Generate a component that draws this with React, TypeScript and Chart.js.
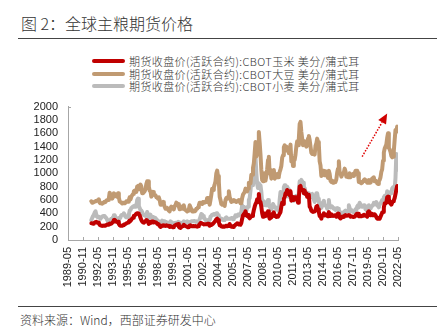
import React, { useEffect, useRef } from 'react';
import { Chart, registerables } from 'chart.js';

Chart.register(...registerables);

// Month index 0 = 1989-05; data starts at 1991-09 (index 28), monthly to 2022-05 (index 396)
const AXIS_START_YEAR = 1989;
const AXIS_START_MONTH = 5;
const DATA_START_INDEX = 28;
const X_TICKS = [0, 18, 36, 54, 72, 90, 108, 126, 144, 162, 180, 198, 216, 234, 252, 270, 288, 306, 324, 342, 360, 378, 396];
const Y_TICKS = [0, 200, 400, 600, 800, 1000, 1200, 1400, 1600, 1800, 2000];

const SERIES_NAMES = [
  '期货收盘价(活跃合约):CBOT玉米 美分/蒲式耳',
  '期货收盘价(活跃合约):CBOT大豆 美分/蒲式耳',
  '期货收盘价(活跃合约):CBOT小麦 美分/蒲式耳',
];
const SERIES_COLORS = ['#C00000', '#C09A72', '#BBBBBB'];

const cornPrices = [
  250, 250, 245, 252,
  262, 268, 272, 258, 262, 252, 228, 220, 215, 210, 215, 218,
  215, 215, 225, 232, 228, 232, 248, 240, 245, 258, 272, 300,
  302, 290, 275, 268, 272, 242, 222, 215, 215, 212, 220, 230,
  235, 240, 250, 255, 262, 280, 292, 285, 305, 322, 335, 362,
  368, 378, 395, 402, 398, 385, 370, 330, 300, 278, 265, 260,
  270, 280, 300, 292, 272, 242, 250, 265, 260, 280, 275, 265,
  270, 265, 260, 245, 235, 230, 210, 195, 205, 215, 220, 215,
  215, 210, 220, 215, 210, 215, 195, 210, 200, 195, 190, 200,
  215, 225, 230, 235, 240, 200, 185, 180, 195, 205, 210, 230,
  215, 210, 205, 200, 190, 195, 215, 220, 210, 205, 210, 210,
  205, 210, 205, 200, 205, 220, 235, 255, 255, 245, 240, 235,
  235, 235, 235, 240, 245, 230, 215, 235, 225, 235, 245, 245,
  275, 290, 310, 320, 300, 265, 220, 225, 205, 200, 200, 205,
  200, 210, 215, 205, 210, 220, 240, 210, 200, 200, 195, 215,
  215, 230, 235, 250, 245, 235, 240, 230, 255, 320, 370, 390,
  400, 430, 370, 360, 375, 340, 325, 340, 355, 360, 390, 450,
  500, 540, 560, 610, 600, 690, 560, 570, 500, 400, 350, 400,
  370, 360, 400, 390, 430, 360, 320, 330, 340, 380, 400, 415,
  360, 365, 345, 350, 350, 350, 395, 420, 500, 560, 540, 620,
  640, 700, 690, 750, 730, 700, 670, 730, 590, 650, 600, 640,
  640, 640, 640, 620, 560, 640, 800, 810, 750, 750, 750, 700,
  740, 690, 700, 650, 660, 680, 500, 480, 440, 430, 420, 420,
  430, 450, 500, 510, 460, 420, 360, 360, 320, 370, 375, 400,
  370, 385, 375, 360, 355, 420, 370, 360, 385, 375, 360, 360,
  370, 360, 350, 390, 395, 360, 335, 325, 335, 350, 345, 350,
  365, 375, 365, 365, 370, 375, 370, 350, 355, 350, 345, 350,
  350, 365, 385, 395, 395, 355, 365, 355, 355, 365, 365, 380,
  375, 365, 360, 350, 420, 430, 415, 370, 375, 390, 370, 385,
  385, 370, 345, 320, 320, 335, 320, 350, 380, 410, 420, 485,
  550, 550, 560, 640, 650, 620, 560, 550, 530, 560, 580, 595,
  630, 690, 750, 810, 800,
];

const soybeanPrices = [
  580, 560, 560, 560,
  575, 580, 590, 590, 600, 610, 560, 550, 550, 545, 560, 565,
  575, 570, 590, 600, 600, 620, 710, 680, 640, 620, 650, 700,
  690, 680, 680, 650, 700, 640, 580, 570, 560, 550, 560, 560,
  550, 560, 580, 580, 575, 600, 640, 610, 650, 670, 690, 730,
  740, 720, 720, 800, 810, 760, 800, 830, 800, 700, 700, 700,
  730, 760, 840, 880, 880, 800, 740, 730, 650, 700, 720, 680,
  670, 670, 640, 640, 620, 640, 600, 530, 530, 560, 570, 540,
  500, 470, 470, 480, 460, 440, 430, 480, 500, 490, 470, 460,
  510, 520, 560, 530, 540, 500, 460, 480, 500, 470, 500, 520,
  460, 450, 440, 430, 440, 460, 520, 490, 460, 430, 440, 430,
  430, 440, 470, 470, 490, 520, 560, 560, 550, 540, 570, 560,
  560, 570, 570, 630, 630, 620, 530, 600, 680, 770, 750, 790,
  830, 880, 1000, 1040, 960, 870, 650, 600, 540, 530, 540, 550,
  510, 600, 630, 620, 650, 730, 640, 610, 570, 580, 580, 600,
  590, 580, 570, 580, 590, 600, 580, 550, 550, 630, 680, 680,
  720, 770, 760, 730, 770, 860, 860, 850, 980, 980, 1080, 1150,
  1300, 1470, 1250, 1300, 1400, 1620, 1460, 1280, 1050, 900, 880, 970,
  1000, 890, 960, 1060, 1200, 1250, 1000, 1050, 920, 970, 1040, 1050,
  920, 940, 940, 990, 940, 960, 1020, 1060, 1110, 1230, 1270, 1390,
  1420, 1370, 1400, 1340, 1380, 1300, 1370, 1430, 1180, 1230, 1110, 1200,
  1200, 1280, 1400, 1480, 1420, 1520, 1740, 1770, 1620, 1520, 1420, 1420,
  1480, 1440, 1400, 1420, 1520, 1560, 1500, 1400, 1310, 1290, 1320, 1300,
  1280, 1410, 1450, 1520, 1470, 1430, 1180, 1120, 960, 1040, 1040, 1020,
  970, 1030, 980, 970, 930, 1040, 990, 890, 870, 890, 860, 870,
  880, 870, 910, 1010, 1070, 1180, 1000, 1000, 950, 980, 1000, 1010,
  1070, 1030, 950, 950, 940, 960, 1000, 940, 970, 980, 990, 960,
  980, 1040, 1040, 1040, 1000, 870, 880, 860, 850, 860, 880, 900,
  910, 900, 880, 860, 860, 900, 880, 860, 890, 920, 900, 940,
  880, 890, 880, 850, 840, 880, 900, 940, 1020, 1060, 1190, 1310,
  1370, 1400, 1430, 1530, 1600, 1380, 1360, 1320, 1260, 1240, 1250, 1340,
  1500, 1650, 1620, 1700, 1690,
];

const wheatPrices = [
  300, 330, 360, 380,
  410, 430, 380, 350, 340, 350, 330, 320, 340, 350, 360, 360,
  360, 340, 330, 300, 280, 270, 300, 300, 320, 320, 340, 370,
  370, 340, 320, 310, 310, 330, 320, 340, 370, 380, 380, 400,
  380, 350, 340, 340, 350, 380, 440, 450, 480, 490, 500, 510,
  500, 520, 500, 600, 620, 510, 480, 450, 440, 420, 380, 380,
  370, 360, 380, 420, 380, 340, 330, 380, 350, 350, 340, 330,
  330, 330, 310, 300, 280, 270, 250, 240, 270, 290, 280, 280,
  280, 260, 270, 260, 250, 260, 260, 280, 270, 260, 250, 250,
  250, 260, 260, 260, 270, 250, 250, 250, 260, 260, 260, 280,
  270, 270, 270, 280, 270, 260, 270, 270, 280, 280, 280, 285,
  285, 275, 280, 270, 270, 280, 310, 350, 390, 380, 360, 330,
  320, 300, 290, 280, 300, 300, 300, 350, 360, 380, 380, 390,
  380, 390, 400, 400, 370, 350, 320, 310, 320, 310, 300, 310,
  300, 330, 340, 320, 320, 320, 320, 320, 330, 330, 310, 330,
  340, 370, 350, 360, 380, 370, 390, 400, 420, 520, 480, 500,
  460, 470, 440, 490, 500, 600, 630, 740, 900, 820, 840, 900,
  920, 1250, 1000, 840, 780, 850, 820, 820, 720, 560, 530, 580,
  560, 520, 540, 520, 600, 540, 500, 480, 460, 500, 540, 540,
  490, 490, 460, 480, 460, 430, 600, 720, 700, 700, 680, 790,
  820, 820, 740, 800, 760, 650, 680, 720, 640, 630, 590, 650,
  650, 640, 660, 620, 640, 740, 880, 880, 900, 880, 860, 780,
  780, 720, 690, 700, 700, 660, 660, 640, 680, 690, 650, 610,
  570, 610, 700, 700, 620, 580, 530, 530, 480, 520, 570, 590,
  520, 520, 510, 470, 510, 600, 500, 490, 510, 500, 480, 470,
  470, 450, 470, 480, 470, 440, 420, 410, 400, 410, 400, 410,
  430, 440, 430, 430, 430, 520, 480, 430, 450, 430, 420, 430,
  430, 460, 450, 500, 520, 490, 560, 530, 510, 500, 510, 520,
  520, 460, 460, 430, 510, 520, 490, 470, 500, 510, 530, 560,
  550, 540, 570, 520, 510, 490, 530, 550, 570, 600, 590, 640,
  660, 650, 620, 730, 680, 660, 710, 720, 700, 770, 790, 770,
  760, 930, 1290, 1050, 1150,
];

// Arrow annotation in data units (month index, price)
const ARROW_FROM = { x: 353, y: 1250 };
const ARROW_TO = { x: 383, y: 1895 };

const monthLabel = (idx: number) => {
  const total = AXIS_START_MONTH - 1 + idx;
  const year = AXIS_START_YEAR + Math.floor(total / 12);
  const month = (total % 12) + 1;
  return `${year}-${month < 10 ? '0' + month : month}`;
};

const toPoints = (arr: number[]) => arr.map((v, i) => ({ x: DATA_START_INDEX + i, y: v }));

const FONT_CJK = '"Noto Sans CJK SC", "Noto Sans", sans-serif';
const FONT_NUM = '"Liberation Sans", Arial, sans-serif';

const decorPlugin = {
  id: 'decor',
  afterDatasetsDraw(chart: any) {
    const { ctx, scales, chartArea } = chart;
    const x = scales.x;
    const y = scales.y;
    ctx.save();
    ctx.strokeStyle = '#A6A6A6';
    ctx.lineWidth = 1;
    x.ticks.forEach((t: any) => {
      const px = Math.round(x.getPixelForValue(t.value)) + 0.5;
      ctx.beginPath();
      ctx.moveTo(px, chartArea.bottom);
      ctx.lineTo(px, chartArea.bottom - 3);
      ctx.stroke();
    });
    const topY = Math.round(y.getPixelForValue(2000)) + 0.5;
    ctx.beginPath();
    ctx.moveTo(chartArea.left, topY);
    ctx.lineTo(chartArea.left + 3, topY);
    ctx.stroke();

    const x0 = x.getPixelForValue(ARROW_FROM.x);
    const y0 = y.getPixelForValue(ARROW_FROM.y);
    const x1 = x.getPixelForValue(ARROW_TO.x);
    const y1 = y.getPixelForValue(ARROW_TO.y);
    const ang = Math.atan2(y1 - y0, x1 - x0);
    const headLen = 10;
    const headHalf = 4.5;
    const bx = x1 - headLen * Math.cos(ang);
    const by = y1 - headLen * Math.sin(ang);
    ctx.strokeStyle = '#E00000';
    ctx.lineWidth = 1.5;
    ctx.setLineDash([1.5, 1.5]);
    ctx.beginPath();
    ctx.moveTo(x0, y0);
    ctx.lineTo(bx, by);
    ctx.stroke();
    ctx.setLineDash([]);
    ctx.fillStyle = '#D00000';
    ctx.beginPath();
    ctx.moveTo(x1, y1);
    ctx.lineTo(bx + headHalf * Math.sin(ang), by - headHalf * Math.cos(ang));
    ctx.lineTo(bx - headHalf * Math.sin(ang), by + headHalf * Math.cos(ang));
    ctx.closePath();
    ctx.fill();
    ctx.restore();
  },
};

export default function App() {
  const canvasRef = useRef<HTMLCanvasElement | null>(null);

  useEffect(() => {
    document.body.style.margin = '0';
    const canvas = canvasRef.current;
    if (!canvas) return;
    const seriesData = [cornPrices, soybeanPrices, wheatPrices];
    const chart = new Chart(canvas, {
      type: 'line',
      data: {
        datasets: seriesData.map((arr, i) => ({
          label: SERIES_NAMES[i],
          data: toPoints(arr),
          borderColor: SERIES_COLORS[i],
          backgroundColor: SERIES_COLORS[i],
          borderWidth: 4,
          pointRadius: 0,
          tension: 0,
          borderJoinStyle: 'round' as const,
          borderCapStyle: 'round' as const,
          fill: false,
        })),
      },
      options: {
        animation: false,
        responsive: true,
        maintainAspectRatio: false,
        layout: { padding: { left: 0, right: 39, top: 11, bottom: 0 } },
        plugins: {
          legend: { display: false },
          tooltip: { enabled: false },
          title: { display: false },
        },
        scales: {
          x: {
            type: 'linear',
            min: 0,
            max: 396,
            grid: { display: false, drawTicks: false },
            border: { display: true, color: '#A6A6A6', width: 1 },
            afterBuildTicks: (scale: any) => {
              scale.ticks = X_TICKS.map((v) => ({ value: v }));
            },
            afterFit: (scale: any) => {
              scale.height = 60;
            },
            ticks: {
              autoSkip: false,
              minRotation: 90,
              maxRotation: 90,
              padding: 7,
              color: '#222',
              font: { family: FONT_NUM, size: 11 },
              callback: (v: any) => monthLabel(Number(v)),
            },
          },
          y: {
            type: 'linear',
            min: 0,
            max: 2000,
            grid: { display: false, drawTicks: false },
            border: { display: true, color: '#A6A6A6', width: 1 },
            afterBuildTicks: (scale: any) => {
              scale.ticks = Y_TICKS.map((v) => ({ value: v }));
            },
            afterFit: (scale: any) => {
              scale.width = 68;
            },
            ticks: {
              autoSkip: false,
              padding: 10,
              color: '#222',
              font: { family: FONT_NUM, size: 11 },
              callback: (v: any) => String(v),
            },
          },
        },
      },
      plugins: [decorPlugin],
    });
    return () => chart.destroy();
  }, []);

  const legendTops = [55, 67.5, 80];

  return (
    <div style={{ position: 'fixed', left: 0, top: 0, width: 437, height: 333, background: '#fff', overflow: 'hidden' }}>
      <div
        style={{
          position: 'absolute', left: 21, top: 14, fontFamily: FONT_CJK, fontSize: 16, fontWeight: 300,
          lineHeight: '18px', color: '#333', whiteSpace: 'nowrap',
        }}
      >
        图 2：全球主粮期货价格
      </div>
      <div style={{ position: 'absolute', left: 18, top: 38, width: 419, height: 1, background: '#444' }} />

      {SERIES_NAMES.map((name, i) => (
        <div key={name} style={{ position: 'absolute', left: 92, top: legendTops[i], height: 12, whiteSpace: 'nowrap' }}>
          <div
            style={{
              position: 'absolute', left: 0, top: 4, width: 33, height: 4, borderRadius: 2,
              background: SERIES_COLORS[i],
            }}
          />
          <div
            style={{
              position: 'absolute', left: 37, top: 0, fontFamily: FONT_CJK, fontSize: 11, fontWeight: 300,
              lineHeight: '12px', letterSpacing: '0.4px', color: '#333',
            }}
          >
            {name}
          </div>
        </div>
      ))}

      <div style={{ position: 'absolute', left: 0, top: 90, width: 437, height: 210 }}>
        <canvas ref={canvasRef} />
      </div>

      <div style={{ position: 'absolute', left: 18, top: 306, width: 419, height: 1, background: '#444' }} />
      <div
        style={{
          position: 'absolute', left: 20, top: 313, fontFamily: FONT_CJK, fontSize: 12, fontWeight: 300,
          lineHeight: '14px', color: '#333', whiteSpace: 'nowrap',
        }}
      >
        资料来源：Wind，西部证券研发中心
      </div>
    </div>
  );
}
